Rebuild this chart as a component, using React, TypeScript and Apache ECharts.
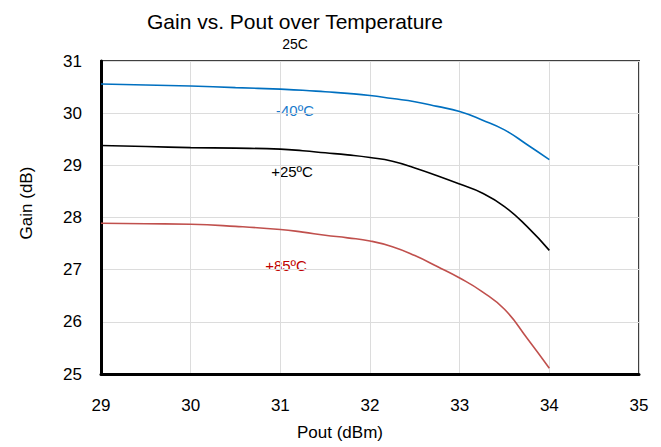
import React, { useEffect, useRef } from "react";
import * as echarts from "echarts";

const pout = [29, 29.5, 30, 30.5, 31, 31.25, 31.5, 31.75, 32, 32.25, 32.5, 32.75, 33, 33.25, 33.5, 33.75, 34];
const gainM40 = [30.56, 30.54, 30.52, 30.49, 30.46, 30.44, 30.41, 30.38, 30.34, 30.28, 30.22, 30.13, 30.03, 29.87, 29.68, 29.4, 29.11];
const gain25 = [29.38, 29.36, 29.34, 29.33, 29.31, 29.28, 29.24, 29.2, 29.15, 29.08, 28.95, 28.8, 28.64, 28.47, 28.21, 27.83, 27.37];
const gain85 = [27.89, 27.88, 27.87, 27.83, 27.77, 27.72, 27.66, 27.61, 27.55, 27.44, 27.27, 27.06, 26.84, 26.58, 26.24, 25.69, 25.11];
const seriesNames = ["-40ºC", "+25ºC", "+85ºC"];

const FONT = "'Liberation Sans', Arial, sans-serif";

export default function App() {
  const ref = useRef<HTMLDivElement>(null);
  useEffect(() => {
    if (!ref.current) return;
    const chart = echarts.init(ref.current, undefined, { renderer: "svg" });
    const pairs = (ys: number[]) => pout.map((x, i) => [x, ys[i]]);
    const colors = ["#0070C0", "#000000", "#C0504D"];
    const labelColors = ["#1A7BCC", "#000000", "#C00000"];
    const all = [gainM40, gain25, gain85];
    chart.setOption({
      animation: false,
      title: {
        text: "Gain vs. Pout over Temperature",
        subtext: "25C",
        left: 290,
        textAlign: "center",
        top: 6,
        itemGap: 5,
        textStyle: { fontFamily: FONT, fontSize: 21, fontWeight: "normal", color: "#000" },
        subtextStyle: { fontFamily: FONT, fontSize: 14, color: "#000" },
      },
      grid: {
        left: 101,
        right: 22,
        top: 61,
        bottom: 73,
        show: true,
        borderColor: "#404040",
        borderWidth: 2,
      },
      xAxis: {
        type: "value",
        min: 29,
        max: 35,
        interval: 1,
        axisLine: { show: true, lineStyle: { color: "#000", width: 3 } },
        axisTick: { show: false },
        axisLabel: { fontFamily: FONT, fontSize: 17, color: "#000", margin: 23 },
        splitLine: { show: true, lineStyle: { color: "#dcdcdc", width: 1 } },
      },
      yAxis: {
        type: "value",
        min: 25,
        max: 31,
        interval: 1,
        axisLine: { show: true, lineStyle: { color: "#000", width: 3 } },
        axisTick: { show: false },
        axisLabel: { fontFamily: FONT, fontSize: 17, color: "#000", margin: 19 },
        splitLine: { show: true, lineStyle: { color: "#dcdcdc", width: 1 } },
      },
      series: all.map((ys, i) => ({
        name: seriesNames[i],
        type: "line",
        data: pairs(ys),
        smooth: 0.5,
        showSymbol: false,
        lineStyle: { color: colors[i], width: 1.6 },
        z: 3,
      })),
      graphic: [
        {
          type: "text",
          x: 295,
          y: 110,
          style: { text: seriesNames[0], fill: labelColors[0], font: `15px ${FONT}`, textAlign: "center", textVerticalAlign: "middle" },
        },
        {
          type: "text",
          x: 292,
          y: 171,
          style: { text: seriesNames[1], fill: labelColors[1], font: `15px ${FONT}`, textAlign: "center", textVerticalAlign: "middle" },
        },
        {
          type: "text",
          x: 286,
          y: 265,
          style: { text: seriesNames[2], fill: labelColors[2], font: `15px ${FONT}`, textAlign: "center", textVerticalAlign: "middle" },
        },
        {
          type: "text",
          x: 340,
          y: 432,
          style: { text: "Pout (dBm)", fill: "#000", font: `17px ${FONT}`, textAlign: "center", textVerticalAlign: "middle" },
        },
        {
          type: "text",
          x: 26,
          y: 203,
          rotation: Math.PI / 2,
          style: { text: "Gain (dB)", fill: "#000", font: `17px ${FONT}`, textAlign: "center", textVerticalAlign: "middle" },
        },
      ],
    });
    return () => chart.dispose();
  }, []);
  return <div ref={ref} style={{ position: "absolute", left: 0, top: 0, width: 661, height: 447 }} />;
}
